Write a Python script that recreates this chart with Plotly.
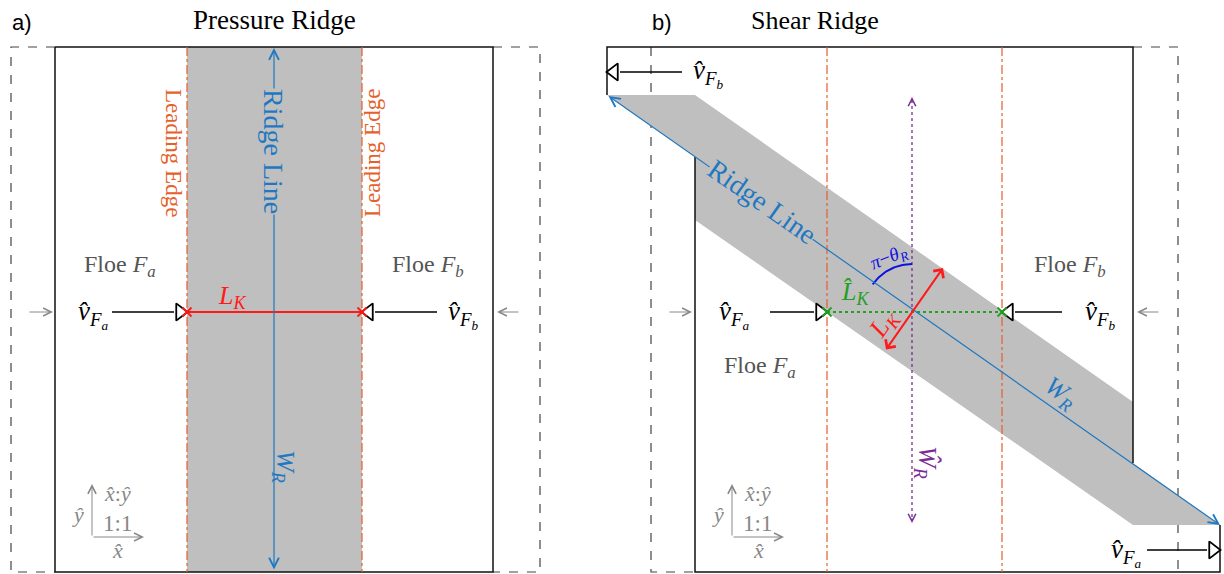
import plotly.graph_objects as go
import numpy as np

W, H = 1224, 574
SERIF = "Liberation Serif"
SANS = "Liberation Sans"

BLUE = "#1f78c1"
ORANGE = "#e5602a"
RED = "#ff1a1a"
GREEN = "#22a022"
PURPLE = "#7b2d96"
GRAYBAND = "#bfbfbf"
TXTGRAY = "#555555"
AXGRAY = "#888888"

# ---------------- panel a geometry ----------------
A_TOP, A_BOT = 47, 572
A_DASH_X = [11, 540]
A_SOLID_X = [55, 493]
A_EDGE_X = [187, 362]
A_RIDGE_X = 274
A_MID_Y = 312

# ---------------- panel b geometry ----------------
B_TOP, B_BOT = 47, 572
B_DASH_X = [651, 1178]
B_FB_X = [607, 1133]
B_FA_X = [695, 1220]
B_EDGE_X = [827, 1002]
B_RIDGE = [(607, 95), (1220, 525)]
B_BAND_X = [607, 695, 1133, 1133, 1220, 1133, 695, 695, 607]
B_BAND_Y = [95, 95, 402, 463, 525, 525, 220, 157, 95]
B_CENTER = (912, 312)
B_LK = [(885, 351), (943, 268)]
B_WHAT_Y = [97, 523]

fig = go.Figure()


def line(xs, ys, color, width=1.0, dash="solid"):
    fig.add_trace(go.Scatter(x=xs, y=ys, mode="lines",
                             line=dict(color=color, width=width, dash=dash),
                             hoverinfo="skip", showlegend=False))


def tri(x, y, symbol, size=15, lw=1.8):
    fig.add_trace(go.Scatter(x=[x], y=[y], mode="markers",
                             marker=dict(symbol=symbol, size=size, color="white",
                                         line=dict(color="black", width=lw)),
                             hoverinfo="skip", showlegend=False))


def xmark(xs, ys, color):
    fig.add_trace(go.Scatter(x=xs, y=ys, mode="markers",
                             marker=dict(symbol="x-thin-open", size=9, color=color,
                                         line=dict(color=color, width=1.8)),
                             hoverinfo="skip", showlegend=False))


def arrow(x0, y0, x1, y1, color, width=1.0, head=5, size=1.5, both=False):
    fig.add_annotation(x=x1, y=y1, ax=x0, ay=y0, xref="x", yref="y",
                       axref="x", ayref="y", text="", showarrow=True,
                       arrowhead=head, arrowsize=size, arrowwidth=width,
                       arrowcolor=color, startarrowhead=head,
                       startarrowsize=size,
                       arrowside="end+start" if both else "end")


def text(x, y, s, size, color="black", angle=0, family=SERIF, bg=None):
    fig.add_annotation(x=x, y=y, xref="x", yref="y", text=s, showarrow=False,
                       textangle=angle, font=dict(family=family, size=size, color=color),
                       bgcolor=bg, borderpad=0, xanchor="center", yanchor="middle")


def vhat(sub):
    return "<i>v̂</i><sub><i>F</i><sub><i>%s</i></sub></sub>" % sub


# ================= panel a =================
line([A_SOLID_X[0], A_DASH_X[0], A_DASH_X[0], A_SOLID_X[0]],
     [A_TOP, A_TOP, A_BOT, A_BOT], "#444", 1.2, "dash")
line([A_SOLID_X[1], A_DASH_X[1], A_DASH_X[1], A_SOLID_X[1]],
     [A_TOP, A_TOP, A_BOT, A_BOT], "#444", 1.2, "dash")
fig.add_trace(go.Scatter(x=[A_EDGE_X[0], A_EDGE_X[1], A_EDGE_X[1], A_EDGE_X[0], A_EDGE_X[0]],
                         y=[A_TOP, A_TOP, A_BOT, A_BOT, A_TOP], mode="lines", fill="toself",
                         fillcolor=GRAYBAND, line=dict(width=0), hoverinfo="skip", showlegend=False))
line([A_SOLID_X[0], A_SOLID_X[1], A_SOLID_X[1], A_SOLID_X[0], A_SOLID_X[0]],
     [A_TOP, A_TOP, A_BOT, A_BOT, A_TOP], "#111", 1.5)
for ex in A_EDGE_X:
    line([ex, ex], [A_TOP, A_BOT], ORANGE, 1.2, "dashdot")
line(A_EDGE_X, [A_MID_Y, A_MID_Y], RED, 2.0)
line([112, 174], [A_MID_Y, A_MID_Y], "black", 1.5)
tri(180, A_MID_Y, "triangle-right")
line([437, 375], [A_MID_Y, A_MID_Y], "black", 1.5)
tri(369, A_MID_Y, "triangle-left")
xmark(A_EDGE_X, [A_MID_Y, A_MID_Y], RED)

# ================= panel b =================
line([B_DASH_X[0], B_DASH_X[0], B_FA_X[0]], [B_TOP, B_BOT, B_BOT], "#444", 1.2, "dash")
line([B_FB_X[1], B_DASH_X[1], B_DASH_X[1]], [B_TOP, B_TOP, B_BOT], "#444", 1.2, "dash")
fig.add_trace(go.Scatter(x=B_BAND_X, y=B_BAND_Y, mode="lines", fill="toself",
                         fillcolor=GRAYBAND, line=dict(width=0), hoverinfo="skip", showlegend=False))
line([B_FB_X[0], B_FB_X[0], B_FB_X[1], B_FB_X[1]], [95, B_TOP, B_TOP, 463], "#111", 1.5)
line([B_FA_X[0], B_FA_X[0], B_FA_X[1], B_FA_X[1]], [157, B_BOT, B_BOT, 525], "#111", 1.5)
for ex in B_EDGE_X:
    line([ex, ex], [B_TOP, B_BOT], ORANGE, 1.2, "dashdot")
line([B_CENTER[0], B_CENTER[0]], [B_WHAT_Y[0] + 3, B_WHAT_Y[1] - 3], PURPLE, 1.3, "dot")
line(B_EDGE_X, [B_CENTER[1], B_CENTER[1]], GREEN, 2.0, "dot")
t = np.radians(np.linspace(215, 270, 30))
R = 48
line(list(B_CENTER[0] + R * np.cos(t)), list(B_CENTER[1] + R * np.sin(t)), "#1010e0", 2.0)
line([770, 814], [B_CENTER[1], B_CENTER[1]], "black", 1.5)
tri(820, B_CENTER[1], "triangle-right")
line([1062, 1015], [B_CENTER[1], B_CENTER[1]], "black", 1.5)
tri(1009, B_CENTER[1], "triangle-left")
line([682, 620], [72, 72], "black", 1.5)
tri(614, 72, "triangle-left")
line([1147, 1207], [550, 550], "black", 1.5)
tri(1213, 550, "triangle-right")
xmark(B_EDGE_X, [B_CENTER[1], B_CENTER[1]], GREEN)

# ---------- arrows ----------
arrow(A_RIDGE_X, A_BOT - 1, A_RIDGE_X, A_TOP + 1, BLUE, 1.2, 5, 1.6, both=True)
arrow(28, A_MID_Y, 53, A_MID_Y, AXGRAY, 1.0, 5, 1.6)
arrow(520, A_MID_Y, 497, A_MID_Y, AXGRAY, 1.0, 5, 1.6)
arrow(92, 537, 92, 484, AXGRAY, 1.0, 5, 1.6)
arrow(92, 537, 144, 537, AXGRAY, 1.0, 5, 1.6)

arrow(B_RIDGE[0][0], B_RIDGE[0][1], B_RIDGE[1][0], B_RIDGE[1][1], BLUE, 1.2, 5, 1.6, both=True)
arrow(B_CENTER[0], B_WHAT_Y[1] - 6, B_CENTER[0], B_WHAT_Y[1], PURPLE, 1.0, 5, 1.5)
arrow(B_CENTER[0], B_WHAT_Y[0] + 6, B_CENTER[0], B_WHAT_Y[0], PURPLE, 1.0, 5, 1.5)
arrow(B_LK[0][0], B_LK[0][1], B_LK[1][0], B_LK[1][1], RED, 2.0, 4, 1.2, both=True)
arrow(668, B_CENTER[1], 692, B_CENTER[1], AXGRAY, 1.0, 5, 1.6)
arrow(1160, B_CENTER[1], 1137, B_CENTER[1], AXGRAY, 1.0, 5, 1.6)
arrow(732, 537, 732, 484, AXGRAY, 1.0, 5, 1.6)
arrow(732, 537, 784, 537, AXGRAY, 1.0, 5, 1.6)

# ---------- texts ----------
text(22, 22, "a)", 22, "black", family=SANS)
text(274, 20, "Pressure Ridge", 27)
text(662, 22, "b)", 22, "black", family=SANS)
text(815, 20, "Shear Ridge", 26)

text(A_RIDGE_X, 151, "Ridge Line", 28, BLUE, 90, bg=GRAYBAND)
text(174, 153, "Leading Edge", 23, ORANGE, 90)
text(372, 153, "Leading Edge", 23, ORANGE, -90)
text(284, 466, "<i>W</i><sub><i>R</i></sub>", 26, BLUE, 90)
text(120, 266, "Floe <i>F</i><sub><i>a</i></sub>", 24, TXTGRAY)
text(428, 266, "Floe <i>F</i><sub><i>b</i></sub>", 24, TXTGRAY)
text(232, 297, "<i>L</i><sub><i>K</i></sub>", 26, RED)
text(93, 314, vhat("a"), 27)
text(463, 314, vhat("b"), 27)
text(117, 493, "<i>x̂</i>:<i>ŷ</i>", 22, AXGRAY)
text(117, 523, "1:1", 23, AXGRAY)
text(78, 514, "<i>ŷ</i>", 22, AXGRAY)
text(117, 550, "<i>x̂</i>", 22, AXGRAY)

text(762, 201, "Ridge Line", 28, BLUE, 35, bg=GRAYBAND)
text(1060, 393, "<i>W</i><sub><i>R</i></sub>", 26, BLUE, 35)
text(926, 462, "<i>Ŵ</i><sub><i>R</i></sub>", 26, PURPLE, 90)
text(889, 258, "<i>π</i>−<i>θ</i><sub><i>R</i></sub>", 19, "#1010e0", -22)
text(855, 293, "<i>L̂</i><sub><i>K</i></sub>", 26, GREEN)
text(884, 324, "<i>L</i><sub><i>K</i></sub>", 26, RED, -55)
text(1070, 266, "Floe <i>F</i><sub><i>b</i></sub>", 24, TXTGRAY)
text(760, 367, "Floe <i>F</i><sub><i>a</i></sub>", 24, TXTGRAY)
text(734, 314, vhat("a"), 27)
text(1100, 314, vhat("b"), 27)
text(708, 73, vhat("b"), 27)
text(1126, 552, vhat("a"), 27)
text(757, 493, "<i>x̂</i>:<i>ŷ</i>", 22, AXGRAY)
text(757, 523, "1:1", 23, AXGRAY)
text(718, 514, "<i>ŷ</i>", 22, AXGRAY)
text(758, 550, "<i>x̂</i>", 22, AXGRAY)

fig.update_layout(
    width=W, height=H, margin=dict(l=0, r=0, t=0, b=0),
    paper_bgcolor="white", plot_bgcolor="white", showlegend=False,
    xaxis=dict(range=[0, W], visible=False, fixedrange=True),
    yaxis=dict(range=[H, 0], visible=False, fixedrange=True),
)
fig.write_html("out.html")
